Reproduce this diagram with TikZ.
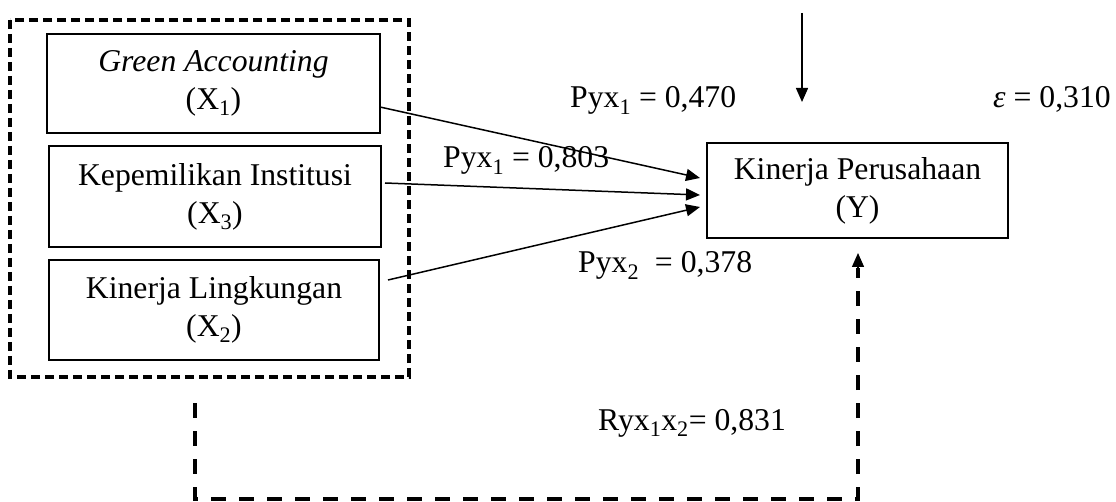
\documentclass[tikz,border=0pt]{standalone}
\usepackage{fontspec}
\setmainfont{Liberation Serif}
\usetikzlibrary{arrows.meta,calc}
\tikzset{
  varbox/.style={draw, line width=1.6pt, align=center, inner sep=0pt},
  lbl/.style={anchor=base west, inner sep=0pt},
  arr/.style={line width=1.5pt, -{Triangle[length=14pt,width=12pt]}},
  grp/.style={line width=3.2pt, dash pattern=on 9pt off 5pt},
  corr/.style={line width=3.5pt, dash pattern=on 15pt off 13pt}
}
\begin{document}
\begin{tikzpicture}[x=1pt,y=-1pt,font=\fontsize{31.7}{38}\selectfont]
\useasboundingbox (0,0) rectangle (1116,502);
% group box
\draw[grp] (10,20) rectangle (409,377);
% variable boxes
\node[varbox, minimum width=333pt, minimum height=99pt] (x1) at (213.5,83.5) {\itshape Green Accounting\\(X\textsubscript{1})};
\node[varbox, minimum width=332pt, minimum height=101pt] (x3) at (215,196.5) {Kepemilikan Institusi\\(X\textsubscript{3})};
\node[varbox, minimum width=330pt, minimum height=100pt] (x2) at (214,310) {Kinerja Lingkungan\\(X\textsubscript{2})};
\node[varbox, minimum width=301pt, minimum height=95pt] (y) at (857.5,190.5) {Kinerja Perusahaan\\(Y)};
% arrow endpoints
\coordinate (s1) at (380,107);
\coordinate (s2) at (385,183);
\coordinate (s3) at (388,280);
\coordinate (t1) at (700,178);
\coordinate (t2) at (700,195);
\coordinate (t3) at (700,207);
\draw[arr] (s1) -- (t1);
\draw[arr] (s2) -- (t2);
\draw[arr] (s3) -- (t3);
% error arrow
\coordinate (e0) at (802,13);
\coordinate (e1) at (802,102);
\draw[arr] (e0) -- (e1);
% correlation path
\coordinate (c0) at (195,403);
\coordinate (c1) at (195,499);
\coordinate (c2) at (858,499);
\coordinate (c3) at (858,253);
\coordinate (c4) at (858,268);
\draw[corr] (c0) -- (c1) -- (c2) -- (c4);
\draw[arr] (c4) -- (c3);
% labels
\node[lbl] (l1) at (570,108) {Pyx\textsubscript{1} = 0,470};
\node[lbl] (l2) at (443,168) {Pyx\textsubscript{1} = 0,803};
\node[lbl] (l3) at (578,273) {Pyx\textsubscript{2} \ = 0,378};
\node[lbl] (l4) at (993,108) {{\itshape ε} = 0,310};
\node[lbl] (l5) at (598,430) {Ryx\textsubscript{1}x\textsubscript{2}= 0,831};
\end{tikzpicture}
\end{document}
